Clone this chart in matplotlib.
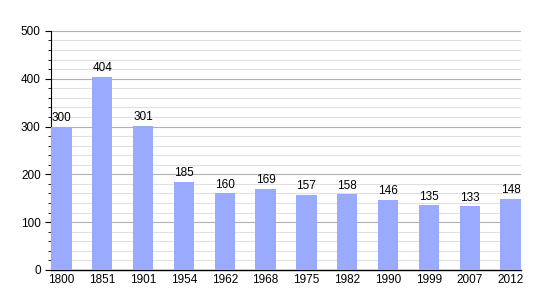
import matplotlib.pyplot as plt
import numpy as np

plt.rcParams['font.family'] = ['Liberation Sans', 'DejaVu Sans']

years = ['1800', '1851', '1901', '1954', '1962', '1968', '1975', '1982', '1990', '1999', '2007', '2012']
population = [300, 404, 301, 185, 160, 169, 157, 158, 146, 135, 133, 148]

fig = plt.figure(figsize=(5.5, 3), dpi=100)
ax = fig.add_axes([0.093, 0.1, 0.854, 0.797])

x = np.arange(len(years))
ax.bar(x, population, width=0.5, color='#99aaff', zorder=3)
for xi, v in zip(x, population):
    ax.text(xi, v + 6, str(v), ha='center', va='bottom', fontsize=8.5, zorder=4)

ax.set_xlim(-0.25, len(years) - 0.75)
ax.set_ylim(0, 500)
ax.set_xticks(x)
ax.set_xticklabels(years, fontsize=8.5)
ax.set_yticks(np.arange(0, 501, 100))
ax.set_yticks(np.arange(0, 501, 20), minor=True)
ax.tick_params(axis='y', labelsize=8.5, length=4, width=0.8)
ax.tick_params(axis='y', which='minor', length=2, width=0.6)
ax.tick_params(axis='x', length=0, pad=3)

ax.grid(axis='y', which='major', color='#b0b0b0', linewidth=0.8, zorder=0)
ax.grid(axis='y', which='minor', color='#e0e0e0', linewidth=0.8, zorder=0)

for s in ['top', 'right']:
    ax.spines[s].set_visible(False)
ax.spines['left'].set_linewidth(0.8)
ax.spines['bottom'].set_linewidth(1.0)

fig.savefig('out.png', dpi=100)
